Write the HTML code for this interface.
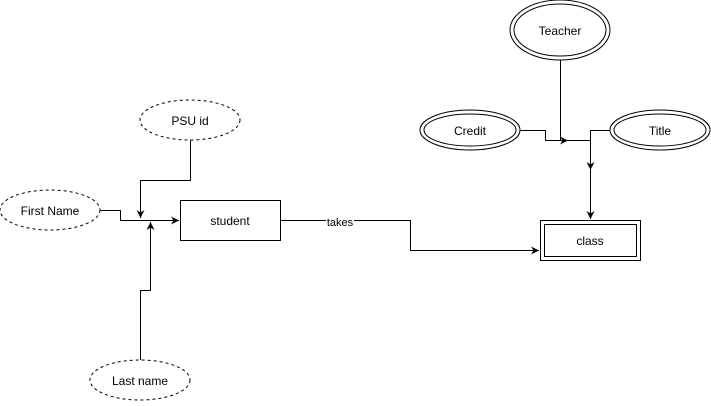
<!DOCTYPE html>
<html><head><style>body{margin:0;background:#fff}</style></head><body>
<svg width="711" height="401" viewBox="0 0 711 401" xmlns="http://www.w3.org/2000/svg" font-family="Liberation Sans, Arial, sans-serif" font-size="12">
<defs><marker id="a" markerWidth="10" markerHeight="10" refX="8" refY="4" orient="auto" markerUnits="userSpaceOnUse"><path d="M0,0 L8,4 L0,8 L2.5,4 Z" fill="#000"/></marker></defs>
<g fill="#fff" stroke="#000">
<ellipse cx="190" cy="120" rx="50" ry="20" stroke-dasharray="3 3"/>
<ellipse cx="50" cy="210" rx="50" ry="20" stroke-dasharray="3 3"/>
<ellipse cx="140" cy="380" rx="50" ry="20" stroke-dasharray="3 3"/>
<rect x="180.5" y="200.5" width="100" height="40"/>
<rect x="540.5" y="220.5" width="100" height="40"/>
<rect x="544.5" y="224.5" width="92" height="32"/>
<ellipse cx="560" cy="30" rx="50" ry="30"/><ellipse cx="560" cy="30" rx="46" ry="26"/>
<ellipse cx="470" cy="130" rx="50" ry="20"/><ellipse cx="470" cy="130" rx="46" ry="16"/>
<ellipse cx="660" cy="130" rx="50" ry="20"/><ellipse cx="660" cy="130" rx="46" ry="16"/>
</g>
<g fill="none" stroke="#000">
<path d="M190.5 140 V180.5 H140.5 V218" marker-end="url(#a)"/>
<path d="M100 210.5 H120.5 V220.5 H179" marker-end="url(#a)"/>
<path d="M140.5 360 V290.5 H150.5 V222" marker-end="url(#a)"/>
<path d="M280 220.5 H410.5 V250.5 H539" marker-end="url(#a)"/>
<path d="M560.5 60 V140.5"/>
<path d="M520 130.5 H545.5 V140.5 H568" marker-end="url(#a)"/>
<path d="M560 140.5 H590.5"/>
<path d="M610 130.5 H590.5 V170" marker-end="url(#a)"/>
<path d="M590.5 166 V219" marker-end="url(#a)"/>
</g>
<g text-anchor="middle" fill="#000">
<text x="190" y="125">PSU id</text>
<text x="50" y="215">First Name</text>
<text x="140" y="385">Last name</text>
<text x="230" y="225">student</text>
<text x="590" y="245">class</text>
<text x="560" y="35">Teacher</text>
<text x="470" y="135">Credit</text>
<text x="660" y="135">Title</text>
</g>
<rect x="326" y="216" width="28" height="11" fill="#fff"/>
<text x="340" y="226" text-anchor="middle" font-size="11">takes</text>
</svg>
</body></html>
